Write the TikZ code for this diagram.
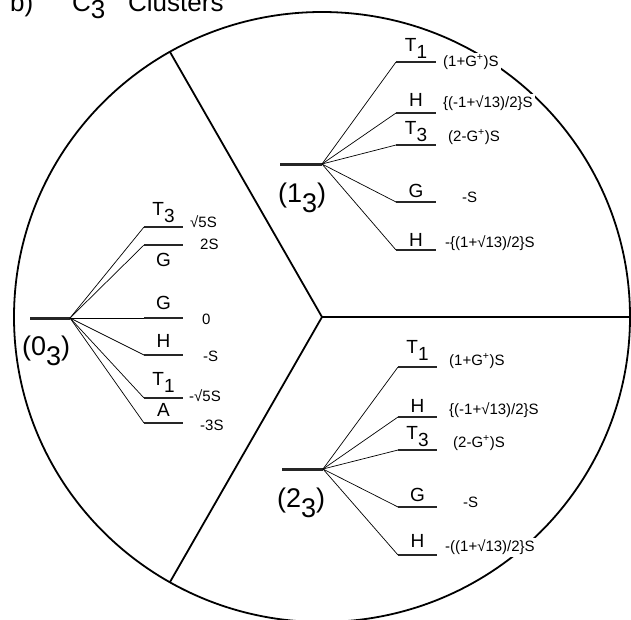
\documentclass[tikz,border=0pt]{standalone}
\usepackage{fontspec}
\setmainfont{Liberation Sans}
\newcommand\lsub[1]{\raisebox{-0.38em}{#1}}
\tikzset{
  frame/.style={line width=1.8pt},
  lvl/.style={line width=2pt, black!85},
  parent/.style={line width=3pt, black!85},
  conn/.style={line width=0.7pt},
  lab/.style={font=\fontsize{19}{19}\selectfont, inner sep=0pt, anchor=south},
  labb/.style={font=\fontsize{19}{19}\selectfont, inner sep=0pt, anchor=north},
  en/.style={font=\fontsize{15}{15}\selectfont, fill=white, inner xsep=2pt, inner ysep=2pt, anchor=west},
  grp/.style={font=\fontsize{27}{27}\selectfont, inner sep=0pt, anchor=base west},
  ttl/.style={font=\fontsize{26}{26}\selectfont, inner sep=0pt, anchor=base west},
}
\begin{document}
\begin{tikzpicture}[x=1pt,y=-1pt]
\useasboundingbox (0,0) rectangle (631,619);
\clip (0,0) rectangle (631,619);
% title (cut off at top)
\node[ttl] (tb) at (10,11) {b)};
\node[ttl] (tc) at (72,11) {C\raisebox{-7pt}{3}};
\node[ttl] (tcl) at (128,11) {Clusters};
% frame
\draw[frame] (322,317) ellipse [x radius=308pt, y radius=305pt];
\coordinate (J) at (322,317);
\coordinate (U) at (170,52);
\coordinate (D) at (170,582);
\coordinate (R) at (632,317);
\draw[frame] (U) -- (J) -- (D);
\draw[frame] (J) -- (R);

% ---------- panel (0_3)
\coordinate (p0) at (30,318);
\coordinate (a0) at (70,318);
\draw[parent] (p0) -- (a0);
\node[grp] (g0) at (22,355) {(0\lsub{3})};
\foreach \n/\y in {A/227,B/245,C/318,D/355,E/398,F/423}{
  \coordinate (L0\n) at (144,\y);
  \draw[lvl] (L0\n) -- ++(39,0);
  \draw[conn] (a0) -- (L0\n);
}
\node[lab]  (t0A) at (163.5,223) {T\lsub{3}};
\node[labb] (t0B) at (163.5,253) {G};
\node[lab]  (t0C) at (163.5,310) {G};
\node[lab]  (t0D) at (163.5,348) {H};
\node[lab]  (t0E) at (163.5,393) {T\lsub{1}};
\node[lab]  (t0F) at (163.5,417) {A};
\node[en] (e0A) at (188,222) {√5S};
\node[en] (e0B) at (198,244) {2S};
\node[en] (e0C) at (200,319) {0};
\node[en] (e0D) at (201,356) {-S};
\node[en] (e0E) at (187,396) {-√5S};
\node[en] (e0F) at (198,425) {-3S};

% ---------- panel (1_3)
\coordinate (p1) at (280,164);
\coordinate (a1) at (322,164);
\draw[parent] (p1) -- (a1);
\node[grp] (g1) at (278,202) {(1\lsub{3})};
\foreach \n/\y in {A/62,B/113,C/145,D/202,E/250}{
  \coordinate (L1\n) at (396,\y);
  \draw[lvl] (L1\n) -- ++(40,0);
  \draw[conn] (a1) -- (L1\n);
}
\node[lab] (t1A) at (416,59) {T\lsub{1}};
\node[lab] (t1B) at (416,107) {H};
\node[lab] (t1C) at (416,142) {T\lsub{3}};
\node[lab] (t1D) at (416,198) {G};
\node[lab] (t1E) at (416,247) {H};
\node[en] (e1A) at (441,62) {(1+G\textsuperscript{+})S};
\node[en] (e1B) at (441,103) {\{(-1+√13)/2\}S};
\node[en] (e1C) at (446,137) {(2-G\textsuperscript{+})S};
\node[en] (e1D) at (460,197) {-S};
\node[en] (e1E) at (443,243) {-\{(1+√13)/2\}S};

% ---------- panel (2_3)
\coordinate (p2) at (282,469);
\coordinate (a2) at (323,469);
\draw[parent] (p2) -- (a2);
\node[grp] (g2) at (277,507) {(2\lsub{3})};
\foreach \n/\y in {A/367,B/417,C/450,D/507,E/555}{
  \coordinate (L2\n) at (398,\y);
  \draw[lvl] (L2\n) -- ++(39,0);
  \draw[conn] (a2) -- (L2\n);
}
\node[lab] (t2A) at (417.5,361) {T\lsub{1}};
\node[lab] (t2B) at (417.5,413) {H};
\node[lab] (t2C) at (417.5,447) {T\lsub{3}};
\node[lab] (t2D) at (417.5,502) {G};
\node[lab] (t2E) at (417.5,548) {H};
\node[en] (e2A) at (447,361) {(1+G\textsuperscript{+})S};
\node[en] (e2B) at (447,410) {\{(-1+√13)/2\}S};
\node[en] (e2C) at (451,443) {(2-G\textsuperscript{+})S};
\node[en] (e2D) at (461,502) {-S};
\node[en] (e2E) at (443,547) {-((1+√13)/2\}S};
\end{tikzpicture}
\end{document}
